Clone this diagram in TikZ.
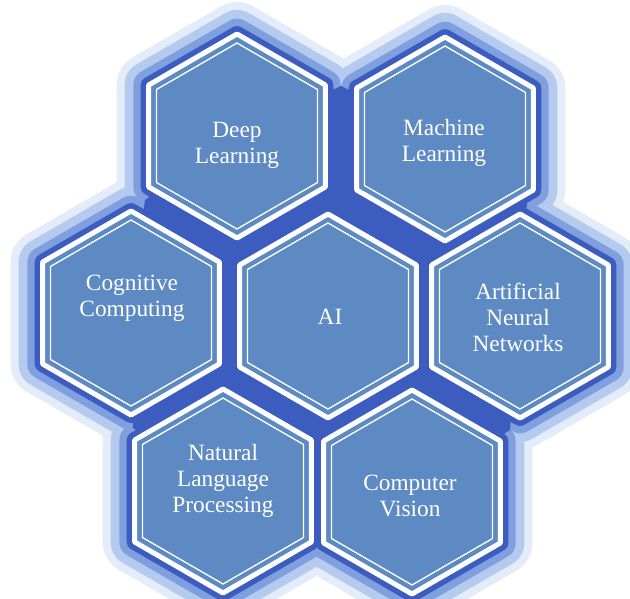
\documentclass[tikz,border=0pt]{standalone}
\usepackage{fontspec}
\setmainfont{Liberation Serif}
\definecolor{haloA}{HTML}{E4ECF9}
\definecolor{haloB}{HTML}{B4CBEF}
\definecolor{haloC}{HTML}{809FDE}
\definecolor{haloD}{HTML}{3C5CBF}
\definecolor{hexfill}{HTML}{5D8AC3}
\tikzset{every picture/.style={line width=0.75pt}}
\tikzset{
  hexlabel/.style={text=white, align=center, inner sep=0.75pt, font=\fontsize{17.5}{19.5}\selectfont},
  halo/.style={draw=#1, fill=#1, line join=round}
}
\begin{document}
\begin{tikzpicture}[x=0.75pt,y=0.75pt,yscale=-1,xscale=1]
	\useasboundingbox (0,0) rectangle (630,598);
	\def\hexR{102}
	\def\hexlist{237/136, 445/139, 131/313, 328/316, 520/316, 223/491, 412/492}
	
	%Shape: Halo layers behind the hexagons
	\foreach \w/\c in {48pt/haloA, 36pt/haloB, 23pt/haloC, 12pt/haloD}{
		\foreach \x/\y in \hexlist{
			\draw [halo=\c, line width=\w] (\x,\y) +(90:\hexR) -- +(150:\hexR) -- +(210:\hexR) -- +(270:\hexR) -- +(330:\hexR) -- +(30:\hexR) -- cycle ;
		}
	}
	%Shape: Dark fill between the hexagons
	\fill [haloD] (237,136) -- (341,86) -- (445,139) -- (527,202) -- (520,316) -- (510,430) -- (412,492) -- (318,543) -- (223,491) -- (133,428) -- (131,313) -- (145,200) -- cycle ;
	
	%Shape: Hexagons [white frame and inner line]
	\foreach \x/\y in \hexlist{
		\draw [white, line width=3.75pt, line join=round, fill=hexfill] (\x,\y) +(90:\hexR) -- +(150:\hexR) -- +(210:\hexR) -- +(270:\hexR) -- +(330:\hexR) -- +(30:\hexR) -- cycle ;
		\draw [white, line width=1pt] (\x,\y) +(90:\hexR-9) -- +(150:\hexR-9) -- +(210:\hexR-9) -- +(270:\hexR-9) -- +(330:\hexR-9) -- +(30:\hexR-9) -- cycle ;
	}
	
	% Text Node
	\node [hexlabel] (deep) at (237,145) {Deep\\Learning};
	% Text Node
	\node [hexlabel] (machine) at (444,143) {Machine\\Learning};
	% Text Node
	\node [hexlabel] (cognitive) at (132,298) {Cognitive\\Computing};
	% Text Node
	\node [hexlabel] (ai) at (330,317) {AI};
	% Text Node
	\node [hexlabel] (ann) at (518,317) {Artificial\\Neural\\Networks};
	% Text Node
	\node [hexlabel] (nlp) at (223,481) {Natural\\Language\\Processing};
	% Text Node
	\node [hexlabel] (vision) at (410,496) {Computer\\Vision};
	
\end{tikzpicture}
\end{document}
